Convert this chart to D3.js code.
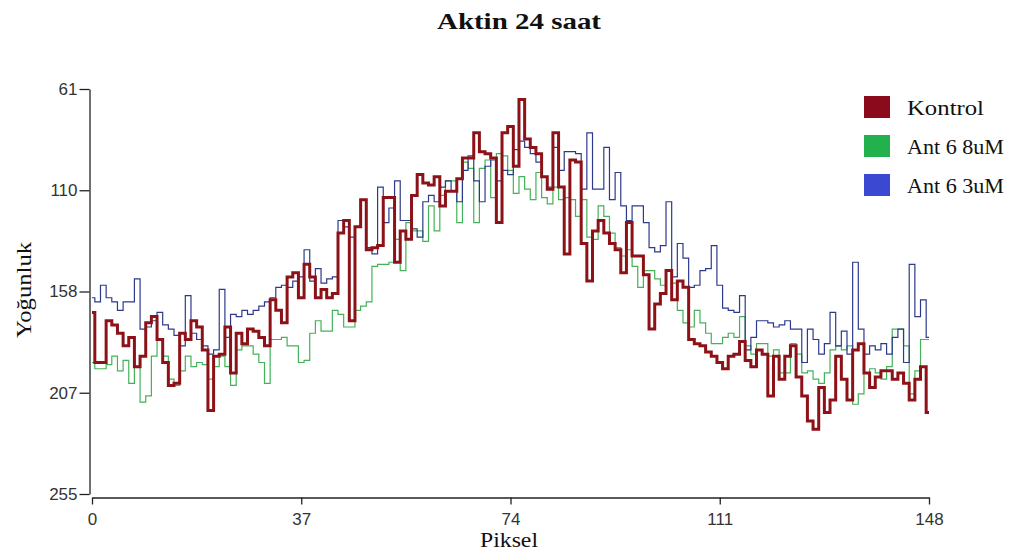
<!DOCTYPE html>
<html>
<head>
<meta charset="utf-8">
<script src="https://cdn.jsdelivr.net/npm/d3@7"></script>
<style>
  body { margin: 0; background: #fff; }
  svg { display: block; }
</style>
</head>
<body>
<div id="chart"></div>
<script>
// --- Data ---
const seriesNames = ["Kontrol", "Ant 6 8uM", "Ant 6 3uM"];
const xTicks = [0, 37, 74, 111, 148];
const yTicks = [61, 109.5, 158, 206.5, 255];

const kontrol = [
  168, 192, 192, 172, 174, 178, 184, 180, 194, 189, 173, 170, 181, 192, 203, 202, 178, 181, 172, 175,
  186, 215, 189, 188, 175, 197, 178, 183, 176, 177, 180, 184, 162, 167, 173, 151, 149, 161, 145, 151,
  161, 157, 161, 159, 130, 124, 172, 127, 114, 138, 137, 136, 113, 113, 144, 129, 133, 112, 102, 106,
  107, 103, 117, 110, 110, 104, 94, 94, 82, 91, 92, 94, 125, 82, 79, 98, 66, 85, 89, 92,
  103, 109, 82, 108, 140, 95, 96, 135, 153, 129, 124, 130, 135, 138, 149, 125, 141, 141, 150, 176,
  164, 159, 148, 162, 153, 156, 181, 183, 184, 187, 189, 192, 195, 189, 188, 182, 191, 194, 186, 188,
  208, 189, 200, 189, 184, 199, 208, 220, 224, 204, 216, 210, 189, 200, 210, 186, 183, 197, 204, 199,
  196, 196, 200, 197, 202, 210, 200, 194, 216
];

const ant8 = [
  192, 195, 195, 193, 189, 196, 191, 202, 194, 211, 208, 189, 181, 189, 200, 203, 196, 189, 194, 192,
  193, 200, 194, 189, 194, 203, 186, 184, 184, 188, 192, 202, 181, 181, 180, 184, 184, 192, 191, 178,
  172, 177, 177, 167, 169, 175, 175, 167, 165, 163, 146, 145, 145, 144, 133, 148, 125, 129, 129, 134,
  117, 129, 112, 105, 105, 125, 96, 99, 125, 99, 95, 113, 92, 93, 100, 111, 103, 109, 114, 101,
  113, 116, 108, 114, 113, 114, 122, 114, 132, 133, 117, 122, 130, 137, 141, 138, 146, 156, 148, 148,
  152, 155, 148, 154, 167, 173, 175, 167, 173, 178, 183, 183, 180, 178, 180, 170, 184, 188, 183, 183,
  189, 186, 197, 197, 183, 188, 197, 196, 200, 202, 197, 186, 184, 186, 184, 212, 207, 197, 195, 197,
  200, 194, 176, 176, 184, 207, 196, 181, 181
];

const ant3 = [
  161, 163, 155, 161, 163, 167, 163, 163, 152, 176, 175, 172, 168, 174, 176, 179, 184, 160, 178, 181,
  184, 188, 186, 157, 180, 169, 170, 167, 169, 167, 165, 163, 161, 156, 155, 156, 153, 151, 138, 153,
  147, 154, 152, 151, 124, 127, 132, 127, 114, 137, 140, 108, 125, 118, 105, 124, 124, 128, 132, 115,
  112, 115, 108, 105, 110, 115, 100, 93, 105, 115, 98, 95, 105, 100, 102, 90, 86, 89, 92, 96,
  103, 108, 89, 100, 91, 91, 92, 109, 82, 109, 109, 89, 114, 101, 117, 124, 117, 117, 125, 137,
  139, 136, 115, 151, 135, 142, 156, 155, 148, 147, 136, 155, 166, 167, 168, 160, 186, 180, 172, 172,
  173, 175, 174, 172, 176, 176, 192, 176, 181, 188, 183, 168, 184, 177, 188, 144, 176, 188, 184, 186,
  183, 188, 180, 176, 192, 145, 170, 162, 180
];

// --- Chart Dimensions ---
const width = 1021;
const height = 554;
const serif = "'Liberation Serif', 'Times New Roman', serif";

const svg = d3
  .select("#chart")
  .append("svg")
  .attr("width", width)
  .attr("height", height);

svg.append("rect").attr("width", width).attr("height", height).attr("fill", "#fff");

const x = d3.scaleLinear().domain([0, 148]).range([92, 929]);
const y = d3.scaleLinear().domain([61, 255]).range([89, 494]);

// --- Axes ---
const yAxis = svg
  .append("g")
  .attr("transform", "translate(89.5,0)")
  .call(
    d3.axisLeft(y)
      .tickValues(yTicks)
      .tickFormat((d) => Math.round(d))
      .tickSize(10)
      .tickSizeOuter(0)
      .tickPadding(2)
  );

const xAxis = svg
  .append("g")
  .attr("transform", "translate(0,497.5)")
  .call(
    d3.axisBottom(x)
      .tickValues(xTicks)
      .tickSize(7)
      .tickSizeOuter(0)
      .tickPadding(8)
  );

[yAxis, xAxis].forEach((g) => {
  g.selectAll("path, line").attr("stroke", "#222").attr("stroke-width", 1.3);
  g.selectAll("text")
    .attr("fill", "#333")
    .style("font-family", "'Liberation Sans', Arial, sans-serif")
    .style("font-size", "17px");
});

// --- Lines ---
const line = d3
  .line()
  .x((d, i) => x(i))
  .y((d) => y(d))
  .curve(d3.curveStep);

const series = [
  { name: seriesNames[1], values: ant8, stroke: "#45b158", width: 1.2 },
  { name: seriesNames[2], values: ant3, stroke: "#2d3a8c", width: 1.2 },
  { name: seriesNames[0], values: kontrol, stroke: "#8c1218", width: 3 },
];

svg
  .selectAll("path.series")
  .data(series)
  .join("path")
  .attr("class", "series")
  .attr("fill", "none")
  .attr("stroke", (d) => d.stroke)
  .attr("stroke-width", (d) => d.width)
  .attr("d", (d) => line(d.values));

// --- Legend ---
const legendColors = ["#8b0b1c", "#22b14c", "#3a48d2"];
const legendWidths = [77, 97, 97];
const legend = svg
  .selectAll("g.legend")
  .data(seriesNames)
  .join("g")
  .attr("class", "legend")
  .attr("transform", (d, i) => `translate(864,${96 + i * 39})`);

legend
  .append("rect")
  .attr("width", 26)
  .attr("height", 22)
  .attr("fill", (d, i) => legendColors[i]);

legend
  .append("text")
  .attr("x", 43)
  .attr("y", 19)
  .attr("textLength", (d, i) => legendWidths[i])
  .attr("lengthAdjust", "spacingAndGlyphs")
  .style("font-family", serif)
  .style("font-size", "20px")
  .attr("fill", "#111")
  .text((d) => d);

// --- Titles ---
svg
  .append("text")
  .attr("x", 519)
  .attr("y", 29)
  .attr("text-anchor", "middle")
  .attr("textLength", 164)
  .attr("lengthAdjust", "spacingAndGlyphs")
  .style("font-family", serif)
  .style("font-size", "24px")
  .style("font-weight", "bold")
  .attr("fill", "#111")
  .text("Aktin 24 saat");

svg
  .append("text")
  .attr("x", 509)
  .attr("y", 547)
  .attr("text-anchor", "middle")
  .attr("textLength", 58)
  .attr("lengthAdjust", "spacingAndGlyphs")
  .style("font-family", serif)
  .style("font-size", "20px")
  .attr("fill", "#111")
  .text("Piksel");

svg
  .append("text")
  .attr("transform", "translate(31,290) rotate(-90)")
  .attr("text-anchor", "middle")
  .attr("textLength", 96)
  .attr("lengthAdjust", "spacingAndGlyphs")
  .style("font-family", serif)
  .style("font-size", "21px")
  .attr("fill", "#111")
  .text("Yoğunluk");
</script>
</body>
</html>
